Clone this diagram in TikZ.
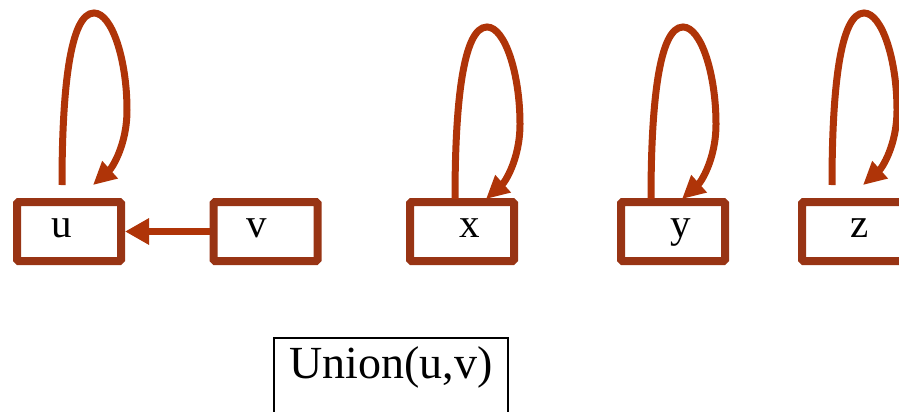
\documentclass[tikz,border=0pt]{standalone}
\usepackage{fontspec}
\setmainfont{Liberation Serif}
\usetikzlibrary{arrows.meta}
\definecolor{boxc}{RGB}{152,52,20}
\definecolor{arrowc}{RGB}{175,52,8}
\tikzset{
  ubox/.style={draw=boxc, line width=8pt, minimum width=104pt, minimum height=59pt, inner sep=0pt, rounded corners=1.5pt},
  lbl/.style={anchor=base, inner sep=0pt, font=\fontsize{41}{45}\selectfont},
  conn/.style={draw=arrowc, line width=7pt, -{Triangle[length=23pt,width=22pt]}},
  unionbox/.style={draw=black, line width=1.5pt, minimum width=234pt, minimum height=100pt, inner sep=0pt, anchor=north},
  pics/selfloop/.style={code={
    \coordinate (-s) at (0,0);
    \coordinate (-t) at (31,0);
    \draw[conn] (-s) .. controls (0,-95) and (8,-172) .. (32,-172)
      .. controls (50,-172) and (65,-125) .. (65,-75)
      .. controls (65,-40) and (50,-17) .. (-t);
  }}
}
\begin{document}
\begin{tikzpicture}[x=1pt,y=-1pt]
\useasboundingbox (0,0) rectangle (899,412);
\node[ubox] (bu) at (69,231.5) {};
\node[ubox] (bv) at (265.5,231.5) {};
\node[ubox] (bx) at (462,231.5) {};
\node[ubox] (by) at (673,231.5) {};
\node[ubox] (bz) at (854,231.5) {};
\node[lbl] (tu) at (62,237) {u};
\node[lbl] (tv) at (257,237) {v};
\node[lbl] (tx) at (470,237) {x};
\node[lbl] (ty) at (681,237) {y};
\node[lbl] (tz) at (860,237) {z};
\pic (lu) at (62,185) {selfloop};
\pic (lx) at (455,199) {selfloop};
\pic (ly) at (651,199) {selfloop};
\pic (lz) at (832,185) {selfloop};
\draw[conn, line width=7.5pt, -{Triangle[length=24pt,width=25pt]}] (bv.west) -- (bu.east);
\node[unionbox] (ub) at (391,337) {};
\node[anchor=base, inner sep=0pt, font=\fontsize{46}{50}\selectfont] (ut) at (391,378) {Union(u,v)};
\end{tikzpicture}
\end{document}
